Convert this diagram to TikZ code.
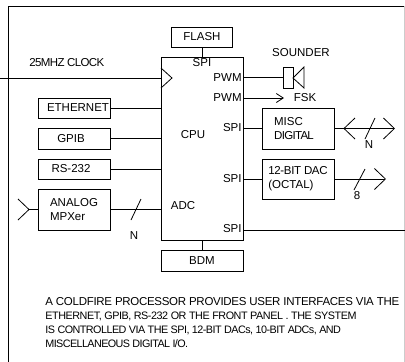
\documentclass[tikz,border=0pt]{standalone}
\usepackage{fontspec}
\setmainfont{Liberation Sans}
\usetikzlibrary{arrows.meta,positioning}
\newcommand{\tightby}[1]{\addfontfeature{LetterSpace=#1}}

\begin{document}
\begin{tikzpicture}[x=1pt,y=-1pt,>={Straight Barb[length=11pt,width=21pt]},line width=0.8pt,
 font=\fontsize{11.5}{13.8}\selectfont,
 block/.style={draw,align=left,inner sep=0pt,minimum width=72pt},
 port/.style={inner sep=0pt,anchor=east},
 caption/.style={inner sep=0pt,anchor=west},
 small/.style={caption,font=\fontsize{10.8}{12}\selectfont}]
\useasboundingbox (0,0) rectangle (405,362);
% outer frame
\draw (8,362) -- (8,6) -- (404,6);
\draw[gray!40] (404,6) -- (404,362);
% processor and its two neighbours
\node[block,minimum width=82pt,minimum height=183pt] (cpu) at (202,148.5) {};
\node[block,minimum width=61pt,minimum height=20pt] (flash) at (202,37) {FLASH};
\node[block,minimum width=82pt,minimum height=21pt] (bdm) at (202,260.5) {BDM};
\draw (flash.south) -- (flash.south |- cpu.north);
\draw (cpu.south) -- (bdm.north);
% left side
\node[block,minimum height=20pt] (ether) at (74,108) {\hspace*{8pt}ETHERNET};
\node[block,minimum height=21pt] (gpib) at (74,138.5) {GPIB\hspace*{6pt}};
\node[block,minimum height=20pt] (rs) at (74,169) {RS-232\hspace*{6pt}};
\node[block,minimum height=41pt] (analog) at (74,209.5) {ANALOG\\MPXer};
\draw (ether) -- (ether -| cpu.west);
\draw (gpib) -- (gpib -| cpu.west);
\draw (rs) -- (rs -| cpu.west);
\draw (analog) -- (analog -| cpu.west);
\draw (131,220) -- (141,199);
\node (adcn) at (134,236) {N};
\coordinate (anain) at (29,209.5);
\draw (anain) -- (analog);
\draw (18,199) -- (anain) -- (18,220);
% clock
\coordinate (clkin) at (0,78);
\draw (clkin) -- (clkin -| cpu.west);
\draw (161,68) -- (172,78) -- (161,88);
\node[caption] (clk) at (29,63) {\tightby{-5.5}25MHZ CLOCK};
% text inside the processor
\node (flashspi) at (202,63) {SPI};
\node (cpulabel) at (193,135) {CPU};
\node (adc) at (183,206) {ADC};
\node[port] (pwma) at (242,78) {PWM};
\node[port] (pwmb) at (242,98) {PWM};
\node[port] (spia) at (242,128) {SPI};
\node[port] (spib) at (242,179) {SPI};
\node[port] (spic) at (242,229) {SPI};
% sounder
\node (sounderlabel) at (301,53) {SOUNDER};
\node[block,minimum width=10pt,minimum height=21pt] (sounder) at (288,77.5) {};
\draw (293,78) -- (304,67) -- (304,88) -- cycle;
\draw (sounder.west -| cpu.east) -- (sounder.west);
% fsk
\coordinate (fskout) at (284,98);
\draw[-{Straight Barb[length=7pt,width=9pt]}] (fskout -| cpu.east) -- (fskout);
\node (fsk) at (305,98) {FSK};
% misc digital
\node[block,minimum height=41pt] (misc) at (298,128.5) {MISC\\\tightby{-6}DIGITAL\hspace*{8pt}};
\coordinate (miscout) at (395,128.5);
\draw (misc -| cpu.east) -- (misc);
\draw[->] (misc) -- (miscout);
\draw (355,118) -- (344,128.5) -- (355,139);
\draw (365,139) -- (375,118);
\node (miscn) at (369,145) {N};
% dac
\node[block,minimum height=40pt] (dac) at (298,179) {\tightby{-3}12-BIT DAC\\(OCTAL)};
\coordinate (dacout) at (386,179);
\draw (dac -| cpu.east) -- (dac);
\draw[->] (dac) -- (dacout);
\draw (354,190) -- (365,169);
\node (dacn) at (357,196) {8};
% spi bus
\coordinate (busout) at (405,230);
\draw (busout -| cpu.east) -- (busout);
% description
\node[caption] (linea) at (45,302) {\tightby{-2.5}A COLDFIRE PROCESSOR PROVIDES USER INTERFACES VIA THE};
\node[small] (lineb) at (45,316) {\tightby{-4.2}ETHERNET, GPIB, RS-232 OR THE FRONT PANEL . THE SYSTEM};
\node[small] (linec) at (45,330) {\tightby{-5}IS CONTROLLED VIA THE SPI, 12-BIT DACs, 10-BIT ADCs, AND};
\node[small] (lined) at (45,344) {\tightby{-5.5}MISCELLANEOUS DIGITAL I/O.};
\end{tikzpicture}
\end{document}
